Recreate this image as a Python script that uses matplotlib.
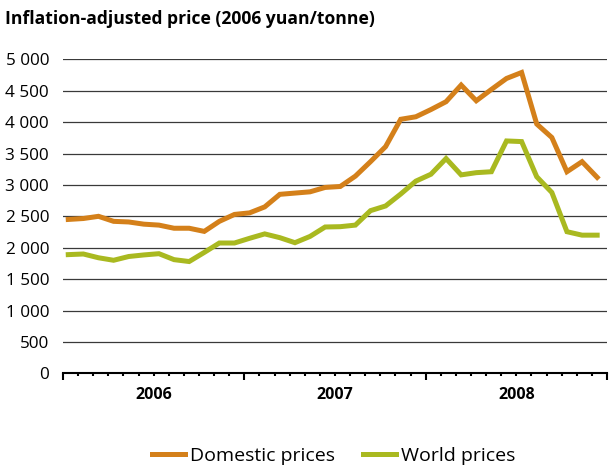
import numpy as np
import matplotlib
matplotlib.use("Agg")
import matplotlib.pyplot as plt
from matplotlib.ticker import FuncFormatter, MultipleLocator

plt.rcParams['font.family'] = ['Open Sans', 'DejaVu Sans']

# monthly values, Jan 2006 - Dec 2008
domestic = [2450, 2465, 2500, 2420, 2410, 2375, 2360, 2310, 2310, 2260, 2420, 2530,
            2555, 2650, 2850, 2870, 2890, 2960, 2975, 3140, 3370, 3610, 4045, 4085,
            4200, 4325, 4590, 4340, 4520, 4695, 4790, 3970, 3755, 3210, 3370, 3120]
world = [1890, 1900, 1840, 1800, 1860, 1885, 1905, 1810, 1780, 1925, 2075, 2075,
         2150, 2220, 2160, 2080, 2180, 2330, 2335, 2360, 2590, 2665, 2855, 3060,
         3170, 3420, 3160, 3195, 3210, 3700, 3690, 3130, 2880, 2255, 2200, 2200]
years = ['2006', '2007', '2008']
title = 'Inflation-adjusted price (2006 yuan/tonne)'

orange = '#D4801A'
green = '#A9B920'

fig = plt.figure(figsize=(6.09, 4.67), dpi=100)
ax = fig.add_axes([0.1034, 0.2006, 0.8933, 0.6724])

x = np.arange(len(domestic))
ax.plot(x, domestic, color=orange, lw=3.6, solid_joinstyle='miter', label='Domestic prices', zorder=3)
ax.plot(x, world, color=green, lw=3.6, solid_joinstyle='miter', label='World prices', zorder=3)

x0 = -0.35
ax.set_xlim(x0, x0 + 36)
ax.set_ylim(0, 5000)

ax.yaxis.set_major_locator(MultipleLocator(500))
ax.yaxis.set_major_formatter(FuncFormatter(lambda v, p: f"{int(v):,}".replace(',', ' ')))
ax.grid(axis='y', color='#3a3a3a', lw=0.9)
ax.set_axisbelow(True)

ax.set_xticks([x0 + 12 * k for k in range(4)])
ax.set_xticks([x0 + m for m in range(37)], minor=True)
ax.set_xticklabels([])
ax.tick_params(axis='x', which='major', direction='out', length=5, width=1.5, color='black')
ax.tick_params(axis='x', which='minor', direction='out', length=2.5, width=1.5, color='black')
ax.tick_params(axis='y', length=0, pad=10, labelsize=12.3)

for k, yr in enumerate(years):
    ax.text(x0 + 12 * k + 6, -0.045, yr, transform=ax.get_xaxis_transform(),
            ha='center', va='top', fontsize=11.5, fontweight='bold')

for s in ['top', 'right', 'left']:
    ax.spines[s].set_visible(False)
ax.spines['bottom'].set_color('black')
ax.spines['bottom'].set_linewidth(1.5)

fig.text(0.008, 0.948, title, fontsize=12.6, fontweight='bold', ha='left', va='baseline')

fig.legend(loc='center', bbox_to_anchor=(0.548, 0.024), ncol=2, frameon=False,
           fontsize=14, handlelength=1.7, handletextpad=0.26, columnspacing=1.4)

fig.savefig('out.png', dpi=100)
